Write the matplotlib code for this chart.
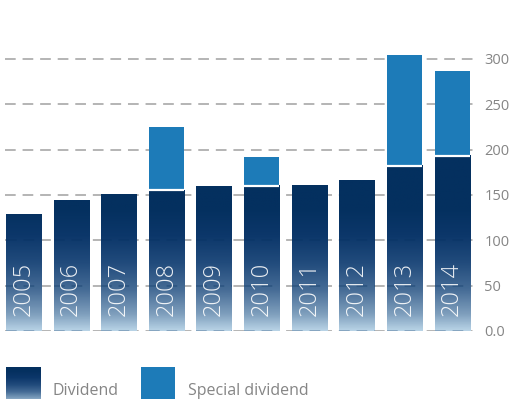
import numpy as np
import matplotlib.pyplot as plt
from matplotlib.colors import LinearSegmentedColormap

years = ['2005', '2006', '2007', '2008', '2009', '2010', '2011', '2012', '2013', '2014']
dividend = [128, 144, 151, 155, 159, 160, 160, 166, 182, 193]
special = [0, 0, 0, 70, 0, 32, 0, 0, 122, 94]
yticks = [0, 50, 100, 150, 200, 250, 300]
yticklabels = ['0.0', '50', '100', '150', '200', '250', '300']

navy = '#04305f'
light_blue = '#1d7bb8'
grey_text = '#858585'

plt.rcParams['font.family'] = ['Open Sans', 'DejaVu Sans']

# dividend bars fade from navy to pale blue towards the baseline
fade = LinearSegmentedColormap.from_list(
    'fade', [(0.0, '#b8d3e6'), (0.12, '#7f9fbd'), (0.3, '#466c96'),
             (0.5, '#214b7c'), (0.7, '#0c376a'), (0.9, navy), (1.0, navy)])
fade_top = 150.0
dash = (0, (7, 4.5))

fig = plt.figure(figsize=(5.12, 3.99), dpi=100)
ax = fig.add_axes([5 / 512, 1 - 331 / 399, 471 / 512, 290.2 / 399])

width = 0.74
x = np.arange(len(years))
for xi, d, s, yr in zip(x, dividend, special, years):
    x0, x1 = xi - width / 2, xi + width / 2
    ys = np.linspace(d, 0, 200)
    grad = np.clip(ys / fade_top, 0, 1)[:, None]
    ax.imshow(grad, cmap=fade, vmin=0, vmax=1, aspect='auto',
              extent=(x0, x1, 0, d), zorder=2, interpolation='bilinear')
    # faint dashes showing through the pale lower part of the bar
    for t in yticks:
        if t < d:
            ax.plot([x0, x1], [t, t], color=navy, lw=1.1, ls=dash,
                    alpha=0.35, zorder=3)
    if s:
        ax.bar(xi, s, width, bottom=d, color=light_blue, zorder=2)
        ax.plot([x0, x1], [d, d], color='white', lw=1.6, zorder=3,
                solid_capstyle='butt')
    ax.text(xi, 17, yr, rotation=90, ha='center', va='bottom', color='white',
            fontsize=17, fontweight='light', zorder=4, alpha=0.9)

for t in yticks:
    ax.axhline(t, color='#a0a0a0', lw=1.1, ls=dash, zorder=1)

ax.set_xlim(-0.39, 9.5)
ax.set_ylim(0, 320)
ax.yaxis.tick_right()
ax.set_yticks(yticks)
ax.set_yticklabels(yticklabels)
ax.tick_params(axis='y', length=0, pad=6, labelsize=10.5, labelcolor=grey_text)
ax.set_xticks([])
for sp in ax.spines.values():
    sp.set_visible(False)

# legend swatches along the bottom edge
lg1 = fig.add_axes([6 / 512, 0, 35 / 512, 32 / 399])
lg1.imshow(np.linspace(1, 0.1, 100)[:, None], cmap=fade, vmin=0, vmax=1,
           aspect='auto', interpolation='bilinear')
lg1.axis('off')
lg2 = fig.add_axes([141 / 512, 0, 34 / 512, 32 / 399])
lg2.set_facecolor(light_blue)
lg2.set_xticks([])
lg2.set_yticks([])
for sp in lg2.spines.values():
    sp.set_visible(False)
fig.text(53 / 512, 0, 'Dividend', color=grey_text, fontsize=11.5, va='bottom')
fig.text(188 / 512, 0, 'Special dividend', color=grey_text, fontsize=11.5, va='bottom')

fig.savefig('out.png', dpi=100)
